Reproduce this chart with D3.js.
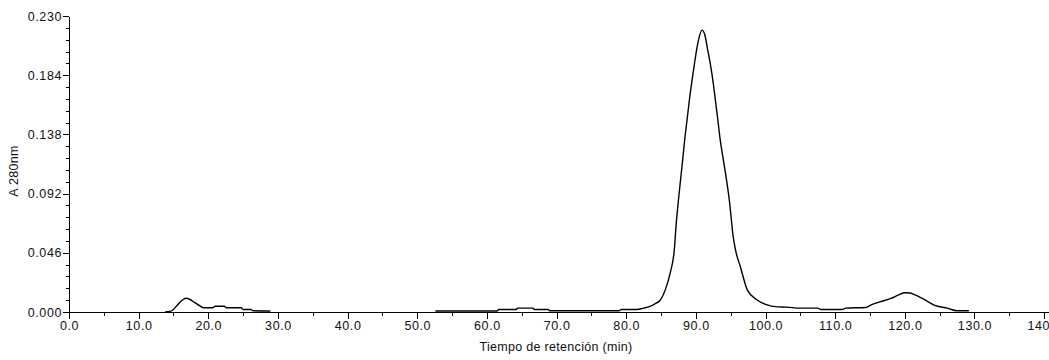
<!DOCTYPE html>
<html>
<head>
<meta charset="utf-8">
<script src="https://cdn.jsdelivr.net/npm/d3@7"></script>
<style>
  body { margin: 0; background: #fff; }
  .axis text { font-family: "Liberation Sans", Arial, sans-serif; font-size: 12.5px; fill: #111; letter-spacing: 0.6px; }
  .axis path, .axis line { stroke: #000; shape-rendering: crispEdges; }
  .axisText { font-family: "Liberation Sans", Arial, sans-serif; font-size: 12.5px; fill: #111; letter-spacing: 0.3px; }
</style>
</head>
<body>
<div class="chart"></div>
<script>
// chromatogram values (null = gap in the trace)
var timeMin = [
  13.8, 14.5, 15.0, 15.5, 16.0, 16.4, 16.8, 17.3, 18.0, 18.8, 19.3, 20.6, 21.0, 22.3, 22.6, 24.7, 25.0, 26.1, 26.4, 28.9,
  40.0,
  52.6, 61.5, 61.7, 64.2, 64.4, 66.6, 66.8, 68.8, 69.0, 79.0, 79.3, 81.5, 82.5, 83.2, 84.0, 84.9, 85.6, 86.3, 86.9,
  87.2, 87.5, 87.8, 88.1, 88.4, 88.75, 89.1, 89.45, 89.8, 90.15, 90.5, 90.9, 91.3, 91.7, 92.1, 92.5, 92.8, 93.1, 93.5,
  93.95, 94.4, 94.8, 95.1, 95.3, 95.7, 96.4, 97.4, 98.8, 100.0, 101.7, 103.0, 105.0, 107.5, 108.0, 111.0, 111.5, 114.4,
  115.1, 116.5, 118.0, 119.2, 120.0, 120.7, 121.3, 122.7, 124.2, 126.1, 127.5, 129.2
];
var absorbance = [
  0.000, 0.0005, 0.002, 0.005, 0.008, 0.0097, 0.0107, 0.0099, 0.0075, 0.0047, 0.0033, 0.0033, 0.0045, 0.0045, 0.0033, 0.0033, 0.002, 0.002, 0.001, 0.0008,
  null,
  0.0008, 0.0008, 0.002, 0.002, 0.003, 0.003, 0.002, 0.002, 0.001, 0.001, 0.002, 0.002, 0.003, 0.004, 0.006, 0.0093, 0.017, 0.030, 0.048,
  0.070, 0.087, 0.1026, 0.118, 0.134, 0.150, 0.166, 0.180, 0.193, 0.205, 0.214, 0.219, 0.215, 0.2036, 0.192, 0.1777, 0.1647, 0.1518, 0.1336,
  0.118, 0.1026, 0.087, 0.0715, 0.061, 0.048, 0.035, 0.017, 0.0093, 0.006, 0.004, 0.0038, 0.003, 0.003, 0.002, 0.002, 0.003, 0.0035,
  0.0054, 0.008, 0.0106, 0.0135, 0.015, 0.0148, 0.0137, 0.010, 0.0054, 0.003, 0.001, 0.001
];
var xTicks = [0, 10, 20, 30, 40, 50, 60, 70, 80, 90, 100, 110, 120, 130, 140];
var xMinorTicks = [5, 15, 25, 35, 45, 55, 65, 75, 85, 95, 105, 115, 125, 135];
var yTicks = [0.000, 0.046, 0.092, 0.138, 0.184, 0.230];

var svgWidth = 1049;
var svgHeight = 360;
var margin = { top: 16, bottom: 48, left: 69, right: 0 };
var height = svgHeight - margin.top - margin.bottom;
var width = svgWidth - margin.left - margin.right;

var svg = d3.select(".chart")
  .append("svg")
  .attr("width", svgWidth)
  .attr("height", svgHeight);

var chartGroup = svg.append("g")
  .attr("transform", `translate(${margin.left}, ${margin.top})`);

// x axis runs a bit past 140 to the window edge
var xLinearScale = d3.scaleLinear()
  .domain([0, 140.7])
  .range([0, width]);

var yLinearScale = d3.scaleLinear()
  .domain([0, 0.230])
  .range([height, 0]);

// minor ticks first
var yMinor = [];
for (var i = 0; i < yTicks.length - 1; i++) {
  for (var k = 1; k < 5; k++) yMinor.push(yTicks[i] + (yTicks[i + 1] - yTicks[i]) * k / 5);
}
chartGroup.append("g")
  .attr("class", "axis")
  .call(d3.axisLeft(yLinearScale).tickValues(yMinor).tickSize(3).tickFormat(""))
  .select(".domain").remove();

chartGroup.append("g")
  .attr("class", "axis")
  .attr("transform", `translate(0, ${height})`)
  .call(d3.axisBottom(xLinearScale).tickValues(xMinorTicks).tickSize(4).tickFormat(""))
  .select(".domain").remove();

// main axes
chartGroup.append("g")
  .attr("class", "axis")
  .call(d3.axisLeft(yLinearScale).tickValues(yTicks).tickSize(6).tickSizeOuter(0).tickPadding(1).tickFormat(d3.format(".3f")));

chartGroup.append("g")
  .attr("class", "axis")
  .attr("transform", `translate(0, ${height})`)
  .call(d3.axisBottom(xLinearScale).tickValues(xTicks).tickSize(7).tickSizeOuter(0).tickPadding(2).tickFormat(d3.format(".1f")));

// trace
var points = timeMin.map(function(t, i) { return { t: t, a: absorbance[i] }; });
var line = d3.line()
  .defined(d => d.a !== null)
  .curve(d3.curveMonotoneX)
  .x(d => xLinearScale(d.t))
  .y(d => yLinearScale(d.a));

chartGroup.append("path")
  .datum(points)
  .attr("fill", "none")
  .attr("stroke", "#000")
  .attr("stroke-width", 1.4)
  .attr("d", line);

// axis titles
chartGroup.append("text")
  .attr("class", "axisText")
  .attr("transform", "rotate(-90)")
  .attr("x", 0 - 155)
  .attr("y", 0 - margin.left + 18)
  .attr("text-anchor", "middle")
  .text("A 280nm");

chartGroup.append("text")
  .attr("class", "axisText")
  .attr("text-anchor", "middle")
  .attr("transform", `translate(${556 - margin.left}, ${height + 39})`)
  .text("Tiempo de retención (min)");
</script>
</body>
</html>
